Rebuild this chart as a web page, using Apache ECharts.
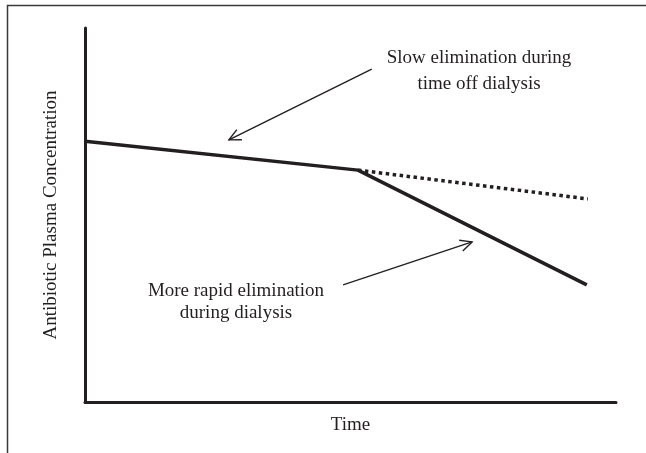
<!DOCTYPE html>
<html lang="en">

<head>
    <meta charset="UTF-8">
    <title>Antibiotic elimination</title>
    <script src="https://cdnjs.cloudflare.com/ajax/libs/echarts/6.0.0/echarts.min.js"></script>
    <style>
        html, body { margin: 0; padding: 0; background: #fff; }
        #main { width: 646px; height: 453px; }
    </style>
</head>

<body>
    <div id="main"></div>
</body>
<script>
    // schematic curve, arbitrary units (0-100 on both axes)
    var offDialysis = [[0, 69.7], [51.4, 62.0]];
    var onDialysis = [[51.4, 62.0], [94.5, 31.3]];
    var noDialysis = [[51.4, 62.0], [94.7, 54.3]];

    // arrows: [fromX, fromY, toX, toY]
    var arrows = [
        [54.0, 89.0, 27.1, 70.1],
        [48.6, 31.3, 72.9, 42.8]
    ];

    var xName = 'Time';
    var yName = 'Antibiotic Plasma Concentration';
    var note1 = 'Slow elimination during\ntime off dialysis';
    var note2 = 'More rapid elimination\nduring dialysis';

    var ink = '#231f20';
    var font = '"Liberation Serif", "DejaVu Serif", serif';

    var chart = echarts.init(document.getElementById('main'));

    function drawArrow(params, api) {
        var a = api.coord([api.value(0), api.value(1)]);
        var b = api.coord([api.value(2), api.value(3)]);
        var ang = Math.atan2(b[1] - a[1], b[0] - a[0]);
        var len = 13, spread = 0.45;
        var h1 = [b[0] - len * Math.cos(ang - spread), b[1] - len * Math.sin(ang - spread)];
        var h2 = [b[0] - len * Math.cos(ang + spread), b[1] - len * Math.sin(ang + spread)];
        var st = { stroke: ink, lineWidth: 1.4, fill: null };
        return {
            type: 'group',
            children: [
                { type: 'line', shape: { x1: a[0], y1: a[1], x2: b[0], y2: b[1] }, style: st },
                { type: 'polyline', shape: { points: [h1, b, h2] }, style: st }
            ]
        };
    }

    var option = {
        animation: false,
        grid: { left: 85, top: 28, right: 30, bottom: 51 },
        xAxis: {
            type: 'value', min: 0, max: 100,
            name: xName, nameLocation: 'middle', nameGap: 14,
            nameTextStyle: { fontFamily: font, fontSize: 19, color: ink, verticalAlign: 'top' },
            axisLine: { lineStyle: { color: ink, width: 3 } },
            axisTick: { show: false }, axisLabel: { show: false }, splitLine: { show: false }
        },
        yAxis: {
            type: 'value', min: 0, max: 100,
            name: yName, nameLocation: 'middle', nameGap: 24,
            nameTextStyle: { fontFamily: font, fontSize: 19, color: ink },
            axisLine: { show: true, lineStyle: { color: ink, width: 3 } },
            axisTick: { show: false }, axisLabel: { show: false }, splitLine: { show: false }
        },
        graphic: [
            {
                type: 'polyline', silent: true,
                shape: { points: [[7.5, 453], [7.5, 5.5], [646, 5.5]] },
                style: { stroke: '#3a3a3a', lineWidth: 1.5, fill: null }
            },
            {
                type: 'text', x: 479, y: 71.5,
                style: {
                    text: note1, font: '19px ' + font, fill: ink, lineHeight: 26,
                    align: 'center', verticalAlign: 'middle'
                }
            },
            {
                type: 'text', x: 236, y: 302,
                style: {
                    text: note2, font: '19px ' + font, fill: ink, lineHeight: 22,
                    align: 'center', verticalAlign: 'middle'
                }
            }
        ],
        series: [
            {
                type: 'line', data: offDialysis.concat(onDialysis.slice(1)), showSymbol: false,
                lineStyle: { color: ink, width: 3.5 }
            },
            {
                type: 'line', data: noDialysis, showSymbol: false,
                lineStyle: { color: ink, width: 3.5, type: [3.5, 3.5], cap: 'butt' }
            },
            {
                type: 'custom', renderItem: drawArrow, data: arrows, silent: true
            }
        ]
    };

    chart.setOption(option);
</script>

</html>
